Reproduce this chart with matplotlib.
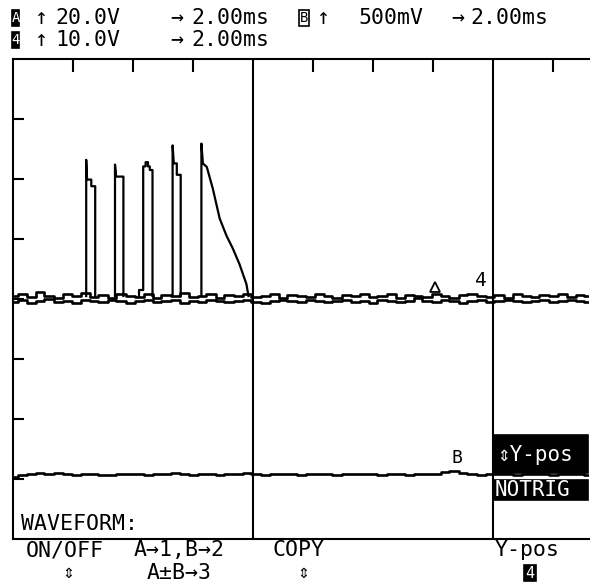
import matplotlib
matplotlib.use('Agg')
import matplotlib.pyplot as plt
from matplotlib.patches import Rectangle
import numpy as np

W, H = 590, 585          # picture size in pixels
DIV = 60.0               # pixels per screen division
X0, Y_TOP, Y_BOT = 13, 59, 539

# scope settings read from the header
ms_per_div = 2.0
ch4_volts_per_div = 10.0
chA_volts_per_div = 20.0
chB_mv_per_div = 500.0
ch4_zero_div = 4.0
chA_zero_div = 4.0
chB_zero_div = 1.08

# burst of five pulses on trace 4 (time in ms, volts), nan splits pulses
burst_ms = [2.44, 2.44, 2.47, 2.61, 2.61, 2.74, 2.74, np.nan,
            3.40, 3.40, 3.44, 3.68, 3.68, np.nan,
            4.20, 4.20, 4.34, 4.34, 4.42, 4.42, 4.50, 4.50, 4.56, 4.56, 4.65, 4.65, np.nan,
            5.32, 5.32, 5.36, 5.46, 5.46, 5.59, 5.59, np.nan,
            6.28, 6.28, 6.33, 6.46, 6.66, 6.89, 7.12, 7.32, 7.55, 7.78, 7.85]
burst_v = [0.5, 23.2, 19.9, 19.9, 18.8, 18.8, 0.5, np.nan,
           0.5, 22.4, 20.4, 20.4, 0.5, np.nan,
           0.5, 1.5, 1.5, 22.1, 22.1, 22.8, 22.8, 22.1, 22.1, 21.5, 21.5, 0.5, np.nan,
           0.5, 25.6, 22.6, 22.6, 20.7, 20.7, 0.5, np.nan,
           0.5, 25.9, 22.6, 22.0, 18.4, 13.4, 10.5, 8.5, 5.8, 2.5, 0.5]

# baseline wobble, one value per sample across 19.2 ms
ch4_noise_v = [0.5, 0.9, 0.3, 1.1, 0.5, 0.2, 0.8, 0.5, 1.0, 0.4, 0.7, 0.2, 0.9,
               0.5, 0.3, 0.8, 0.2, 0.7, 0.5, 1.0, 0.3, 0.5, 0.8, 0.2, 0.7, 0.5,
               0.9, 0.3, 0.5, 0.8, 0.2, 0.7, 0.5, 0.3, 0.9, 0.5, 0.2, 0.7, 0.5,
               0.8, 0.3, 0.5, 0.9, 0.2, 0.7, 0.5, 0.3, 0.8, 0.5, 0.2, 0.7, 0.9,
               0.5, 0.3, 0.7, 0.2, 0.8, 0.5, 0.3, 0.7, 0.5, 0.9, 0.3, 0.7, 0.5]
chA_noise_v = [-1.0, -0.3, -1.3, -0.7, 0.0, -1.0, -0.7, -1.3, -0.3, -0.7, -1.0,
               -0.3, -0.7, -1.3, -0.7, -0.3, -1.0, -0.7, -0.3, -1.3, -0.7, -1.0,
               -0.3, -0.7, -1.0, -0.7, -0.3, -1.0, -1.3, -0.7, -0.3, -0.7, -1.0,
               -0.3, -0.7, -1.0, -0.7, -0.3, -1.0, -0.7, -1.3, -0.3, -0.7, -1.0,
               -0.7, 0.3, -0.7, -1.0, -0.3, -0.7, -1.3, -0.7, -0.3, -1.0, -0.7,
               -0.3, -0.7, -1.0, -0.7, -0.3, -1.0, -0.7, -0.3, -0.7, -1.0]
chB_noise_mv = [-25, -5, 5, 10, 0, 10, 5, -5, 0, 5, -10, -5, 0, 5, 0, -5, 5,
                0, 10, 0, -5, 5, 0, -10, 0, 5, 10, 0, -5, 0, 5, 0, -5, 0, 5, 0,
                -5, 0, 5, 0, 0, -5, 5, 0, -5, 0, 5, 0, 15, 25, 10, 0, -5, 0, 5,
                0, -5, 0, 5, 0, -5, 0, 5, 0, -5]

MONO = 'DejaVu Sans Mono'


def fx(x):
    return x / W


def fy(y):
    return 1 - y / H


def label(fig, x, y, s, size=15.5, color='black', ha='left'):
    fig.text(fx(x), fy(y), s, fontfamily=MONO, fontsize=size, color=color,
             ha=ha, va='center')


def box(fig, x0, y0, x1, y1, fill=True):
    fig.patches.append(Rectangle((fx(x0), fy(y1)), (x1 - x0) / W, (y1 - y0) / H,
                                 transform=fig.transFigure, lw=1.2,
                                 facecolor='black' if fill else 'white',
                                 edgecolor='black'))


fig = plt.figure(figsize=(W / 100, H / 100), dpi=100)
fig.patch.set_facecolor('white')

ax = fig.add_axes([fx(X0), fy(Y_BOT), (589 - X0) / W, (Y_BOT - Y_TOP) / H])
ax.set_xlim(0, (589 - X0) / DIV)
ax.set_ylim(0, (Y_BOT - Y_TOP) / DIV)
for side in ['top', 'left', 'bottom']:
    ax.spines[side].set_linewidth(1.5)
ax.spines['right'].set_visible(False)
ax.set_xticks([1, 2, 3, 5, 6, 7, 9])
ax.set_yticks([1, 2, 3, 4, 5, 6, 7])
ax.tick_params(axis='x', top=True, bottom=False, direction='in', length=9.5,
               width=1.5, labeltop=False, labelbottom=False)
ax.tick_params(axis='y', left=True, right=False, direction='in', length=8,
               width=1.5, labelleft=False)
ax.axvline(4, color='black', lw=1.5)
ax.axvline(8, color='black', lw=1.5)

# traces
t4 = np.linspace(0, 19.2, len(ch4_noise_v))
tA = np.linspace(0, 19.2, len(chA_noise_v))
tB = np.linspace(0, 19.2, len(chB_noise_mv))
ax.plot(tA / ms_per_div, chA_zero_div + np.array(chA_noise_v) / chA_volts_per_div,
        color='black', lw=1.9, drawstyle='steps-mid')
ax.plot(t4 / ms_per_div, ch4_zero_div + np.array(ch4_noise_v) / ch4_volts_per_div,
        color='black', lw=1.9, drawstyle='steps-mid')
ax.plot(np.array(burst_ms) / ms_per_div,
        ch4_zero_div + np.array(burst_v) / ch4_volts_per_div, color='black', lw=1.6)
ax.plot(tB / ms_per_div, chB_zero_div + np.array(chB_noise_mv) / chB_mv_per_div,
        color='black', lw=1.9, drawstyle='steps-mid')

# trace identifiers
ax.plot([14.07 / ms_per_div], [chA_zero_div + 4.0 / chA_volts_per_div], marker='^',
        ms=7, mfc='white', mec='black', mew=1.3)
label(fig, 481, 280, '4', size=14, ha='center')
label(fig, 457, 458, 'B', size=13, ha='center')

# header
box(fig, 12, 10, 19, 26)
label(fig, 15.5, 18, 'A', size=10, color='white', ha='center')
label(fig, 42, 18, '\u2191', ha='center')
label(fig, 55, 18, '20.0V')
label(fig, 177, 18, '\u2192', ha='center')
label(fig, 191, 18, '2.00ms')
box(fig, 299, 10, 309, 26, fill=False)
label(fig, 304, 18, 'B', size=10, ha='center')
label(fig, 323, 18, '\u2191', ha='center')
label(fig, 358, 18, '500mV')
label(fig, 458, 18, '\u2192', ha='center')
label(fig, 470, 18, '2.00ms')

box(fig, 12, 32, 19, 48)
label(fig, 15.5, 40, '4', size=10, color='white', ha='center')
label(fig, 42, 40, '\u2191', ha='center')
label(fig, 55, 40, '10.0V')
label(fig, 177, 40, '\u2192', ha='center')
label(fig, 191, 40, '2.00ms')

# side menu
box(fig, 493, 435, 588, 473)
label(fig, 497, 455, '\u21d5Y-pos', size=15, color='white')
box(fig, 493, 480, 588, 500)
label(fig, 495, 490, 'NOTRIG', size=15, color='white')

# soft keys
label(fig, 21, 524, 'WAVEFORM:')
label(fig, 26, 550, 'ON/OFF')
label(fig, 68, 573, '\u21d5', size=14, ha='center')
label(fig, 134, 550, 'A\u21921,B\u21922')
label(fig, 147, 573, 'A\u00b1B\u21923')
label(fig, 272, 550, 'COPY')
label(fig, 303, 573, '\u21d5', size=14, ha='center')
label(fig, 495, 550, 'Y-pos')
box(fig, 524, 565, 536, 581)
label(fig, 530, 573, '4', size=11, color='white', ha='center')

fig.savefig('out.png', dpi=100, facecolor='white')
